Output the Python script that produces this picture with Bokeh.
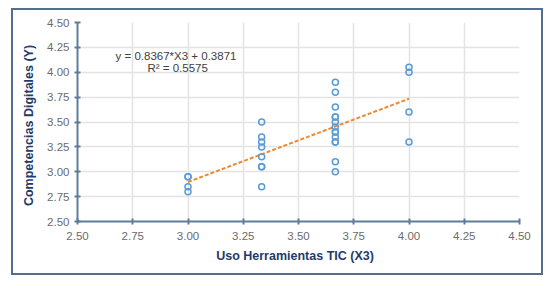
from bokeh.plotting import figure
from bokeh.models import Range1d, FixedTicker, NumeralTickFormatter, Label
from bokeh.embed import file_html
from bokeh.resources import INLINE

# data
x_vals = [3.0]*4 + [3.3333]*8 + [3.6667]*14 + [4.0]*4
y_vals = [2.95, 2.95, 2.85, 2.80,
          3.50, 3.35, 3.30, 3.25, 3.15, 3.05, 3.05, 2.85,
          3.90, 3.80, 3.65, 3.55, 3.55, 3.50, 3.45, 3.40, 3.40, 3.35, 3.30, 3.30, 3.10, 3.00,
          4.05, 4.00, 3.60, 3.30]
slope = 0.8367
intercept = 0.3871
r2 = 0.5575
x_ticks = [2.5, 2.75, 3.0, 3.25, 3.5, 3.75, 4.0, 4.25, 4.5]
y_ticks = [2.5, 2.75, 3.0, 3.25, 3.5, 3.75, 4.0, 4.25, 4.5]

FONT = "Liberation Sans"
AXIS_COL = "#5f7d99"
p = figure(frame_width=442, frame_height=199, output_backend="svg", toolbar_location=None,
           x_range=Range1d(2.5, 4.5), y_range=Range1d(2.5, 4.5),
           min_border_left=64, min_border_right=22, min_border_top=12, min_border_bottom=52)
p.styles = {"border": "2px solid #52708e", "margin-left": "11px", "margin-top": "8px"}
p.outline_line_color = None
p.background_fill_color = "white"
p.border_fill_color = "white"

for ax, ticks in ((p.xaxis, x_ticks), (p.yaxis, y_ticks)):
    ax.ticker = FixedTicker(ticks=ticks)
    ax.formatter = NumeralTickFormatter(format="0.00")
    ax.axis_line_color = AXIS_COL
    ax.axis_line_width = 2
    ax.major_tick_line_color = AXIS_COL
    ax.major_tick_line_width = 2
    ax.major_tick_in = 3
    ax.major_tick_out = 3
    ax.minor_tick_line_color = None
    ax.major_label_text_font = FONT
    ax.major_label_text_font_size = "11.5px"
    ax.major_label_text_color = "#6b6b6b"
    ax.axis_label_text_font = FONT
    ax.axis_label_text_font_size = "12.5px"
    ax.axis_label_text_font_style = "bold"
    ax.axis_label_text_color = "#1f3b6b"

p.xaxis.axis_label = "Uso Herramientas  TIC  (X3)"
p.yaxis.axis_label = "Competencias  Digitales  (Y)"
p.xaxis.major_label_standoff = 7
p.xaxis.axis_label_standoff = 6
p.yaxis.major_label_standoff = 5
p.yaxis.axis_label_standoff = 8

for g in (p.xgrid, p.ygrid):
    g.ticker = FixedTicker(ticks=x_ticks)
    g.grid_line_color = "#e3e3e3"
    g.grid_line_width = 1.5

xmin, xmax = min(x_vals), max(x_vals)
p.line([xmin, xmax], [slope*xmin + intercept, slope*xmax + intercept],
       line_color="#ed8a2e", line_width=2, line_dash="4 2")

p.scatter(x_vals, y_vals, marker="circle", size=6, fill_color=None,
          line_color="#5b9bd5", line_width=1.5)

p.add_layout(Label(x=2.953, y=4.168, text=f"y = {slope}*X3  + {intercept}",
                   text_align="center", text_baseline="middle",
                   text_font=FONT, text_font_size="11.5px", text_color="#404040"))
p.add_layout(Label(x=2.953, y=4.038, text=f"R² = {r2}",
                   text_align="center", text_baseline="middle",
                   text_font=FONT, text_font_size="11.5px", text_color="#404040"))

open("out.html", "w").write(file_html(p, INLINE))
